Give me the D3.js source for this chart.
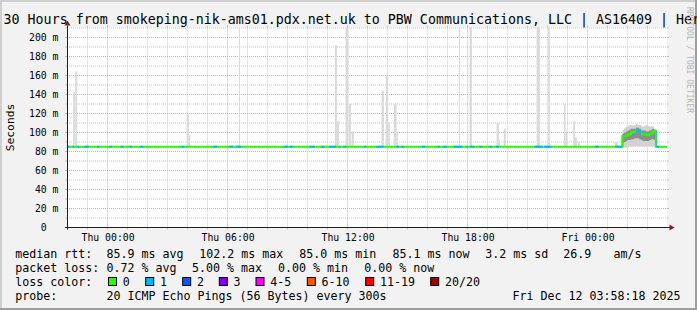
<!DOCTYPE html>
<html>
<head>
<meta charset="utf-8">
<script src="https://cdn.jsdelivr.net/npm/d3@7"></script>
<style>
  body { margin: 0; background: #f2f2f2; }
  svg { display: block; }
  text { font-family: "DejaVu Sans Mono", monospace; }
</style>
</head>
<body>
<div id="chart"></div>
<script>
// ---- data ----
var titleText = "30 Hours from smokeping-nik-ams01.pdx.net.uk to PBW Communications, LLC | AS16409 | Her";
var windowStart = "2025-12-10 21:58:18", windowEnd = "2025-12-12 03:58:18";

var yTickValues = [0, 20, 40, 60, 80, 100, 120, 140, 160, 180, 200];
var yMinorValues = [10, 30, 50, 70, 90, 110, 130, 150, 170, 190, 210];

// median rtt (ms), step changes
var medianBase = 85.1;
var bumpTimes = ["12-12 01:45","12-12 01:50","12-12 01:55","12-12 02:00","12-12 02:05","12-12 02:10","12-12 02:15",
  "12-12 02:20","12-12 02:25","12-12 02:30","12-12 02:35","12-12 02:40","12-12 02:45","12-12 02:50","12-12 02:55",
  "12-12 03:00","12-12 03:05","12-12 03:10","12-12 03:15","12-12 03:20"];
var bumpMedian = [96, 96, 96.5, 98, 98.5, 100, 100.5, 101, 102, 102, 101.5, 98.5, 98, 98, 97, 97, 98.5, 99.5, 101, 101.5];
var bumpMin = [84, 84, 84.5, 85, 85, 85, 85, 85, 85.5, 85, 85, 85, 85, 85, 85, 85, 85, 85, 85, 84.5];
var bumpQ1 = [89, 90, 91, 92, 92, 93, 93, 94, 94, 94, 93, 92, 91, 91, 91, 91, 92, 93, 93, 92];
var bumpQ3 = [99, 100, 101, 102, 103, 104, 104, 104, 105, 105, 104, 102, 102, 102, 101, 101, 102, 103, 104, 103];
var bumpMax = [103, 105, 106, 107, 108, 108, 107, 108, 109, 108, 108, 107, 106, 107, 108, 107, 106, 107, 106, 104];
var bumpEnd = "12-12 03:25";

// smoke spikes: start, minutes, top (ms)
var spikeTimes = ["12-10 22:17","12-10 22:23","12-11 03:57","12-11 04:04","12-11 06:34","12-11 11:22","12-11 11:28",
  "12-11 11:54","12-11 12:04","12-11 12:12","12-11 13:42","12-11 13:55","12-11 14:02","12-11 14:19","12-11 14:27",
  "12-11 17:34","12-11 18:06","12-11 19:27","12-11 19:34","12-11 19:49","12-11 21:27","12-11 22:02","12-11 22:49",
  "12-11 22:54","12-11 23:17","12-11 23:22","12-11 23:31","12-12 00:27","12-12 01:21"];
var spikeMinutes = [5, 6, 7, 4, 3, 6, 6, 9, 6, 7, 7, 7, 5, 8, 4, 3, 7, 7, 3, 6, 10, 5, 5, 4, 5, 6, 6, 4, 10];
var spikeTops = [143, 164, 119, 97, 215, 192, 112, 215, 130, 101, 144, 160, 111, 130, 101, 215, 215, 110, 92, 104,
  215, 215, 130, 101, 112, 95, 90, 87, 90];

// periods with 1/20 lost pings
var lossRuns = [
  ["12-10 21:58","12-10 22:06"],["12-10 22:15","12-10 22:20"],["12-10 22:30","12-10 22:35"],["12-10 22:51","12-10 23:03"],
  ["12-10 23:29","12-10 23:35"],["12-11 00:05","12-11 00:13"],["12-11 00:39","12-11 00:47"],["12-11 01:05","12-11 01:13"],
  ["12-11 01:37","12-11 01:47"],["12-11 03:41","12-11 03:51"],["12-11 05:17","12-11 05:29"],["12-11 06:05","12-11 06:17"],
  ["12-11 06:27","12-11 06:41"],["12-11 08:49","12-11 09:01"],["12-11 09:07","12-11 09:16"],["12-11 10:05","12-11 10:21"],
  ["12-11 10:41","12-11 10:51"],["12-11 11:05","12-11 11:25"],["12-11 11:35","12-11 11:39"],["12-11 11:47","12-11 11:55"],
  ["12-11 12:49","12-11 12:55"],["12-11 13:27","12-11 13:47"],["12-11 14:27","12-11 14:35"],["12-11 14:41","12-11 14:49"],
  ["12-11 15:43","12-11 15:53"],["12-11 16:29","12-11 16:37"],["12-11 16:47","12-11 16:57"],["12-11 17:17","12-11 17:45"],
  ["12-11 17:57","12-11 18:01"],["12-11 18:07","12-11 18:19"],["12-11 18:35","12-11 18:43"],["12-11 19:05","12-11 19:13"],
  ["12-11 19:25","12-11 19:33"],["12-11 21:21","12-11 21:45"],["12-11 21:49","12-11 22:11"],["12-12 00:23","12-12 00:33"],
  ["12-12 01:23","12-12 01:43"],["12-12 02:25","12-12 02:40"],["12-12 03:27","12-12 03:35"]];

// legend
var rttStats = ["85.9 ms avg", "102.2 ms max", "85.0 ms min", "85.1 ms now", "3.2 ms sd", "26.9", "am/s"];
var lossStats = ["0.72 % avg", "5.00 % max", "0.00 % min", "0.00 % now"];
var lossLabels = ["0", "1", "2", "3", "4-5", "6-10", "11-19", "20/20"];
var lossColors = ["#26ff00", "#00b8ff", "#0059ff", "#7e00ff", "#ff00ff", "#ff5500", "#ff0000", "#a10000"];
var probeText = "20 ICMP Echo Pings (56 Bytes) every 300s";
var dateText = "Fri Dec 12 03:58:18 2025";

// ---- layout ----
var W = 697, H = 310;
var px0 = 67, px1 = 667, py0 = 227.5, py1 = 27.5;
var rttX = [107.3, 200, 300, 393.3, 486, 564, 614.3];
var lossX = [107.3, 192.7, 278.7, 365];
var boxX = [108.5, 145.7, 182.7, 219.3, 256, 307.3, 365.7, 430.7];

var T = function(s){ return d3.timeParse("%Y-%m-%d %H:%M")("2025-" + s); };
var parseFull = d3.timeParse("%Y-%m-%d %H:%M:%S");
var tStart = parseFull(windowStart), tEnd = parseFull(windowEnd);

var x = d3.scaleTime().domain([tStart, tEnd]).range([px0, px1]);
var y = d3.scaleLinear().domain([0, 210.5]).range([py0, py1]);

var svg = d3.select("#chart").append("svg").attr("width", W).attr("height", H);

// background + 3d frame
svg.append("rect").attr("width", W).attr("height", H).attr("fill", "#f2f2f2");
svg.append("rect").attr("width", W).attr("height", 2).attr("fill", "#cfcfcf");
svg.append("rect").attr("width", 2).attr("height", H).attr("fill", "#cfcfcf");
svg.append("rect").attr("y", H - 2).attr("width", W).attr("height", 2).attr("fill", "#9e9e9e");
svg.append("rect").attr("x", W - 2).attr("width", 2).attr("height", H).attr("fill", "#9e9e9e");

// canvas
svg.append("rect").attr("x", px0).attr("y", py1).attr("width", px1 - px0).attr("height", py0 - py1).attr("fill", "#fff");

svg.append("clipPath").attr("id", "plotclip").append("rect")
  .attr("x", px0).attr("y", py1).attr("width", px1 - px0).attr("height", py0 - py1);

// grid
var gridMinor = "#c8c8c8", gridMajor = "#eca5a5";
var xMinor = d3.timeHour.every(1).range(tStart, tEnd);
var xMajor = d3.timeHour.every(6).range(tStart, tEnd);
var snap = function(v){ return Math.floor(v) + 0.5; };

var grid = svg.append("g");
function hLines(vals, col) {
  vals.forEach(function(v){
    var yy = y(v);
    grid.append("line").attr("x1", px0).attr("x2", px1).attr("y1", yy).attr("y2", yy)
      .attr("stroke", col).attr("stroke-dasharray", "1,1");
    grid.append("line").attr("x1", px0 - 2).attr("x2", px0).attr("y1", yy).attr("y2", yy).attr("stroke", col);
    grid.append("line").attr("x1", px1).attr("x2", px1 + 2).attr("y1", yy).attr("y2", yy).attr("stroke", col);
  });
}
function vLines(vals, col) {
  vals.forEach(function(t){
    var xx = snap(x(t));
    grid.append("line").attr("x1", xx).attr("x2", xx).attr("y1", py1).attr("y2", py0)
      .attr("stroke", col).attr("stroke-dasharray", "1,1");
    grid.append("line").attr("x1", xx).attr("x2", xx).attr("y1", py0).attr("y2", py0 + 2).attr("stroke", col);
    grid.append("line").attr("x1", xx).attr("x2", xx).attr("y1", py1 - 2).attr("y2", py1).attr("stroke", col);
  });
}
hLines(yMinorValues, gridMinor);
vLines(xMinor.filter(function(t){ return t.getHours() % 6; }), gridMinor);
hLines(yTickValues.filter(function(v){ return v > 0; }), gridMajor);
vLines(xMajor, gridMajor);

var plot = svg.append("g").attr("clip-path", "url(#plotclip)");

// smoke spikes
plot.selectAll("rect.spike").data(spikeTimes).enter().append("rect")
  .attr("class", "spike")
  .attr("x", function(d){ return x(T(d)); })
  .attr("width", function(d, i){ return x(d3.timeMinute.offset(T(d), spikeMinutes[i])) - x(T(d)); })
  .attr("y", function(d, i){ return y(spikeTops[i]); })
  .attr("height", function(d, i){ return y(medianBase) - y(spikeTops[i]); })
  .attr("fill", "#dadada");

// smoke around the bump
var bump = bumpTimes.map(function(s, i){
  return { t: T(s), med: bumpMedian[i], lo: bumpMin[i], q1: bumpQ1[i], q3: bumpQ3[i], hi: bumpMax[i] };
});
bump.push(Object.assign({}, bump[bump.length - 1], { t: T(bumpEnd) }));

function band(lo, hi, col) {
  plot.append("path").datum(bump)
    .attr("d", d3.area().curve(d3.curveStepAfter)
      .x(function(d){ return x(d.t); })
      .y0(function(d){ return y(d[lo]); })
      .y1(function(d){ return y(d[hi]); }))
    .attr("fill", col);
}
band("lo", "hi", "#d2d2d2");
band("q1", "q3", "#8c8c8c");

// median line
var medPts = [{ t: tStart, v: medianBase }]
  .concat(bump.slice(0, -1).map(function(d){ return { t: d.t, v: d.med }; }))
  .concat([{ t: T(bumpEnd), v: medianBase }, { t: tEnd, v: medianBase }]);
var medLine = d3.line().curve(d3.curveStepAfter)
  .x(function(d){ return x(d.t); }).y(function(d){ return y(d.v); });

plot.append("path").datum(medPts).attr("d", medLine)
  .attr("fill", "none").attr("stroke", "#202020").attr("stroke-width", 1);
plot.append("path").datum(medPts).attr("d", medLine)
  .attr("fill", "none").attr("stroke", lossColors[0]).attr("stroke-width", 2);

var lossClip = svg.append("clipPath").attr("id", "lossclip");
lossRuns.forEach(function(r){
  lossClip.append("rect").attr("x", x(T(r[0]))).attr("width", x(T(r[1])) - x(T(r[0])))
    .attr("y", py1).attr("height", py0 - py1);
});
plot.append("g").attr("clip-path", "url(#lossclip)")
  .append("path").datum(medPts).attr("d", medLine)
  .attr("fill", "none").attr("stroke", lossColors[1]).attr("stroke-width", 2);

// axes lines + arrows
var axisCol = "#1f1f1f", arrowCol = "#801f1f";
svg.append("line").attr("x1", px0 - 2).attr("x2", px1 + 3).attr("y1", py0).attr("y2", py0).attr("stroke", axisCol);
svg.append("line").attr("x1", px0 + 0.5).attr("x2", px0 + 0.5).attr("y1", py0 + 2).attr("y2", py1 - 2).attr("stroke", axisCol);
svg.append("path").attr("d", "M" + (px1 + 2.5) + "," + (py0 - 3) + "L" + (px1 + 7.5) + "," + py0 + "L" + (px1 + 2.5) + "," + (py0 + 3) + "Z")
  .attr("fill", arrowCol);
svg.append("path").attr("d", "M" + (px0 - 2.5) + "," + (py1 - 2) + "L" + (px0 + 0.5) + "," + (py1 - 7) + "L" + (px0 + 3.5) + "," + (py1 - 2) + "Z")
  .attr("fill", arrowCol);

// axis labels
var xAxis = svg.append("g").attr("transform", "translate(0," + py0 + ")")
  .call(d3.axisBottom(x).tickValues(xMajor).tickFormat(d3.timeFormat("%a %H:%M")).tickSize(0).tickPadding(7));
xAxis.select(".domain").remove();
xAxis.selectAll("text").attr("font-family", "DejaVu Sans Mono").attr("font-size", "9.8px").attr("fill", "#000");

var yAxis = svg.append("g").attr("transform", "translate(" + px0 + ",0)")
  .call(d3.axisLeft(y).tickValues(yTickValues).tickSize(0).tickPadding(8.5)
    .tickFormat(function(d){ return d ? d + " m" : "0"; }));
yAxis.select(".domain").remove();
yAxis.selectAll("text").attr("font-family", "DejaVu Sans Mono").attr("font-size", "9.8px").attr("fill", "#000")
  .attr("dx", function(d){ return d ? 0 : -11.8; });

svg.append("text").attr("transform", "translate(14," + ((py0 + py1) / 2) + ") rotate(-90)")
  .attr("text-anchor", "middle").style("font-size", "11.3px").text("Seconds");

// title
svg.append("text").attr("x", 3.6).attr("y", 24).style("font-size", "13.3px").text(titleText);

// watermark
svg.append("text").attr("transform", "translate(687,7) rotate(90)")
  .style("font-size", "8px").attr("fill", "#b3b3b3").text("RRDTOOL / TOBI OETIKER");

// legend
var lg = svg.append("g").style("font-size", "11.63px");
var rowY = [258, 272, 286, 300];
lg.append("text").attr("x", 15.3).attr("y", rowY[0]).text("median rtt:");
rttStats.forEach(function(s, i){ lg.append("text").attr("x", rttX[i] - 0.7).attr("y", rowY[0]).text(s); });
lg.append("text").attr("x", 15.3).attr("y", rowY[1]).text("packet loss:");
lossStats.forEach(function(s, i){ lg.append("text").attr("x", lossX[i] - 0.7).attr("y", rowY[1]).text(s); });
lg.append("text").attr("x", 15.3).attr("y", rowY[2]).text("loss color:");
lossLabels.forEach(function(s, i){
  lg.append("rect").attr("x", boxX[i]).attr("y", rowY[2] - 8.5).attr("width", 8).attr("height", 8)
    .attr("fill", lossColors[i]).attr("stroke", "#000");
  lg.append("text").attr("x", boxX[i] + 14.3).attr("y", rowY[2]).text(s);
});
lg.append("text").attr("x", 15.3).attr("y", rowY[3]).text("probe:");
lg.append("text").attr("x", 106.6).attr("y", rowY[3]).text(probeText);
lg.append("text").attr("x", 680.5).attr("y", rowY[3]).attr("text-anchor", "end").text(dateText);
</script>
</body>
</html>
